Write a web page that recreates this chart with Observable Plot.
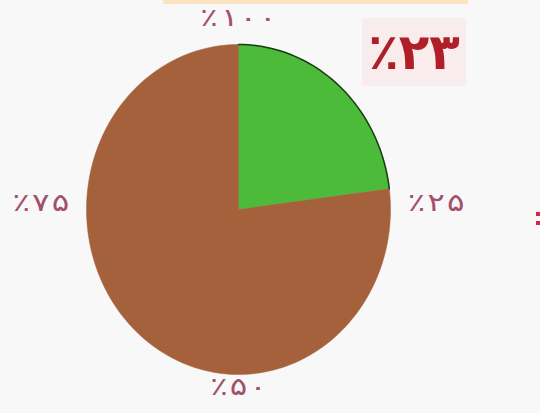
<!DOCTYPE html>
<html><head><meta charset="utf-8">
<script src="https://cdn.jsdelivr.net/npm/d3@7"></script>
<script src="https://cdn.jsdelivr.net/npm/@observablehq/plot@0.6"></script>
<style>
html,body{margin:0;padding:0;background:#f8f8f8;}
#wrap{position:relative;width:540px;height:413px;overflow:hidden;font-family:"DejaVu Sans",sans-serif;}
#band{position:absolute;left:163px;top:0;width:305px;height:4px;background:#fde2c4;}
#title{position:absolute;left:362px;top:18px;width:104px;height:68px;background:#f9ecec;color:#b01e28;font-weight:bold;font-size:50px;line-height:68px;text-align:center;direction:ltr;}
.mark{position:absolute;left:536px;width:4px;height:4px;background:#d4234c;}
svg text{direction:ltr;}
</style></head>
<body><div id="wrap"><div id="band"></div><div id="title">٪۲۳</div>
<div class="mark" style="top:212px"></div><div class="mark" style="top:221px"></div>
<div id="chart"></div></div>
<script>
const categories = ["green", "brown"];
const values = [23, 77];
const colors = ["#4cbb3a", "#a5613b"];
const tickPercents = [0, 25, 50, 75];
const tickLabels = ["٪۱۰۰", "٪۲۵", "٪۵۰", "٪۷۵"];

const total = d3.sum(values);
const polys = [];
let start = 0;
values.forEach((v, i) => {
  const end = start + v / total;
  const pts = [{k: categories[i], x: 0, y: 0}];
  const n = Math.max(2, Math.ceil((end - start) * 200));
  for (let j = 0; j <= n; j++) {
    const a = 2 * Math.PI * (start + (end - start) * j / n);
    pts.push({k: categories[i], x: Math.sin(a), y: Math.cos(a)});
  }
  pts.push({k: categories[i], x: 0, y: 0});
  polys.push({k: categories[i], color: colors[i], pts, start, end});
  start = end;
});
const green = polys[0];
const rim = green.pts.slice(1, -1);

const labels = tickPercents.map((p, i) => {
  const a = 2 * Math.PI * p / 100;
  return {label: tickLabels[i], x: Math.sin(a) * 1.3, y: Math.cos(a) * 1.12};
});

const marks = polys.map(p => Plot.line(p.pts, {x: "x", y: "y", fill: p.color, stroke: p.color, strokeWidth: 0.5}));
marks.push(Plot.line(rim, {x: "x", y: "y", stroke: "#1d3a14", strokeWidth: 1.5}));
marks.push(Plot.text(labels, {x: "x", y: "y", dy: -7, text: "label", fill: "#a3506c", fontSize: 25, fontFamily: "DejaVu Sans Mono", className: "pct"}));

const chart = Plot.plot({
  width: 540, height: 413,
  margin: 0,
  x: {domain: [-1, 1], range: [86, 390], axis: null},
  y: {domain: [-1, 1], range: [374, 44], axis: null},
  style: {background: "transparent"},
  marks
});
d3.select(chart).selectAll("text").each(function() {
  const t = this.getAttribute("transform");
  if (t) this.setAttribute("transform", t + " scale(1.3,1)");
  else {
    const x = +this.getAttribute("x") || 0, y = +this.getAttribute("y") || 0;
    this.setAttribute("transform", `translate(${x},${y}) scale(1.3,1) translate(${-x},${-y})`);
  }
});
document.getElementById("chart").appendChild(chart);
</script></body></html>
